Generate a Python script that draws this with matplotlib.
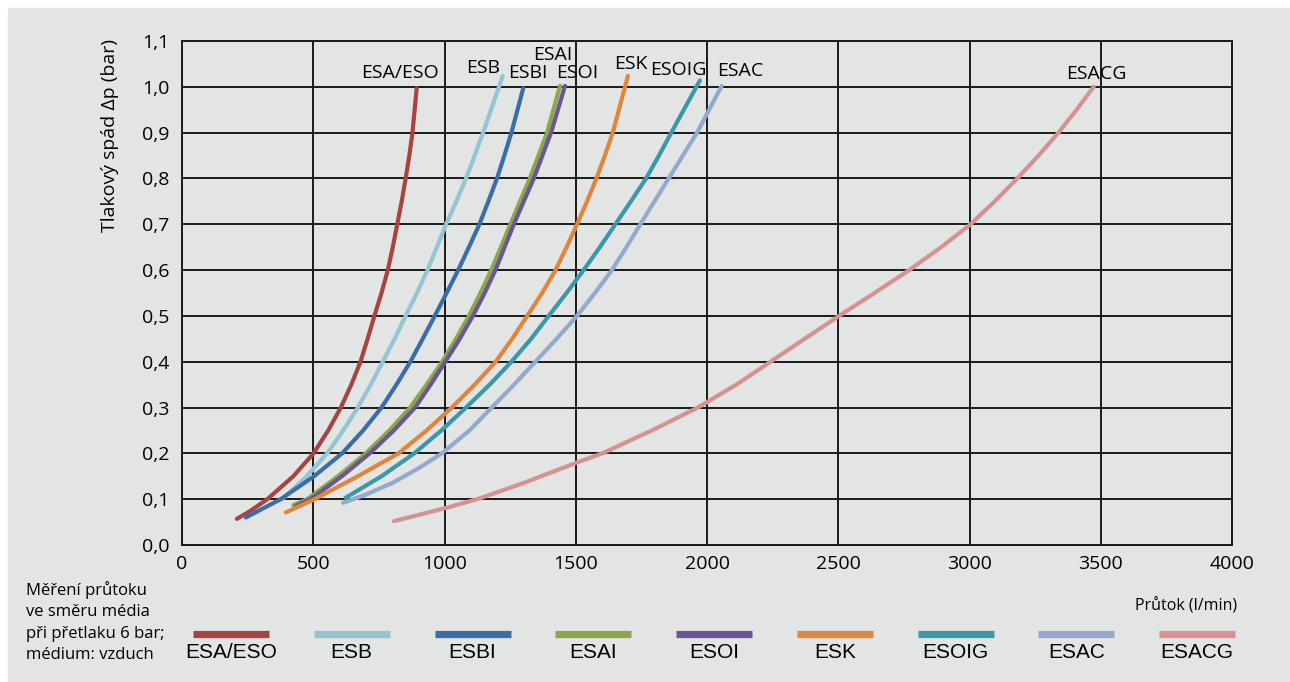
import matplotlib
matplotlib.use("Agg")
import matplotlib.pyplot as plt
from matplotlib.patches import Rectangle
from matplotlib.lines import Line2D

# flow rate (l/min) vs pressure drop (bar)
series_names = ["ESA/ESO", "ESB", "ESBI", "ESAI", "ESOI", "ESK", "ESOIG", "ESAC", "ESACG"]
series_colors = ["#a94341", "#93c5d3", "#3a6ea8", "#8aa84a", "#6b5592",
                 "#e0853a", "#3b98a9", "#93aacc", "#d59290"]

esa_eso_x = [209, 262, 325, 424, 501, 557, 605, 645, 680, 707, 733, 760, 784, 803, 820,
             837, 852, 866, 878, 894]
esa_eso_y = [0.057, 0.075, 0.1, 0.15, 0.2, 0.25, 0.3, 0.35, 0.4, 0.45, 0.5, 0.55, 0.6,
             0.65, 0.7, 0.75, 0.8, 0.85, 0.9, 0.997]

esb_x = [382, 475, 553, 614, 670, 719, 765, 810, 852, 895, 935, 971, 1006, 1045, 1082,
         1115, 1147, 1222]
esb_y = [0.1, 0.15, 0.2, 0.25, 0.3, 0.35, 0.4, 0.45, 0.5, 0.55, 0.6, 0.65, 0.7, 0.75,
         0.8, 0.85, 0.9, 1.024]

esbi_x = [243, 376, 503, 610, 690, 760, 817, 870, 917, 963, 1008, 1052, 1093, 1133, 1167,
          1200, 1228, 1255, 1300]
esbi_y = [0.06, 0.1, 0.15, 0.2, 0.25, 0.3, 0.35, 0.4, 0.45, 0.5, 0.55, 0.6, 0.65, 0.7,
          0.75, 0.8, 0.85, 0.9, 0.997]

esai_x = [424, 477, 594, 700, 790, 869, 932, 991, 1044, 1093, 1137, 1178, 1215, 1251, 1288,
          1325, 1358, 1391, 1440]
esai_y = [0.087, 0.1, 0.15, 0.2, 0.25, 0.3, 0.35, 0.4, 0.45, 0.5, 0.55, 0.6, 0.65, 0.7,
          0.75, 0.8, 0.85, 0.9, 1.002]

esoi_x = [433, 490, 609, 715, 807, 888, 947, 1003, 1058, 1108, 1153, 1194, 1229, 1264, 1302,
          1340, 1373, 1406, 1459]
esoi_y = [0.085, 0.1, 0.15, 0.2, 0.25, 0.3, 0.35, 0.4, 0.45, 0.5, 0.55, 0.6, 0.65, 0.7,
          0.75, 0.8, 0.85, 0.9, 1.002]

esk_x = [395, 505, 670, 825, 932, 1028, 1115, 1195, 1258, 1315, 1372, 1423, 1465, 1505,
         1543, 1579, 1611, 1641, 1699]
esk_y = [0.071, 0.1, 0.15, 0.2, 0.25, 0.3, 0.35, 0.4, 0.45, 0.5, 0.55, 0.6, 0.65, 0.7,
         0.75, 0.8, 0.85, 0.9, 1.024]

esoig_x = [623, 760, 885, 988, 1082, 1172, 1255, 1330, 1397, 1465, 1530, 1592, 1651, 1710,
           1768, 1817, 1864, 1973]
esoig_y = [0.103, 0.15, 0.2, 0.25, 0.3, 0.35, 0.4, 0.45, 0.5, 0.55, 0.6, 0.65, 0.7, 0.75,
           0.8, 0.85, 0.9, 1.014]

esac_x = [614, 700, 800, 900, 990, 1095, 1180, 1265, 1346, 1427, 1505, 1573, 1638, 1693,
          1746, 1800, 1854, 1908, 1962, 2056]
esac_y = [0.092, 0.11, 0.135, 0.167, 0.2, 0.25, 0.3, 0.35, 0.4, 0.45, 0.5, 0.55, 0.6, 0.65,
          0.7, 0.75, 0.8, 0.85, 0.9, 1.002]

esacg_x = [807, 1000, 1125, 1300, 1500, 1601, 1790, 1965, 2112, 2242, 2372, 2503, 2638,
           2770, 2892, 3004, 3096, 3182, 3263, 3339, 3408, 3473]
esacg_y = [0.052, 0.08, 0.1, 0.135, 0.179, 0.2, 0.25, 0.3, 0.35, 0.4, 0.45, 0.5, 0.55,
           0.6, 0.65, 0.7, 0.75, 0.8, 0.85, 0.9, 0.95, 1.0]

series_x = [esa_eso_x, esb_x, esbi_x, esai_x, esoi_x, esk_x, esoig_x, esac_x, esacg_x]
series_y = [esa_eso_y, esb_y, esbi_y, esai_y, esoi_y, esk_y, esoig_y, esac_y, esacg_y]

# curve labels above the top ends (data coords)
label_x = [830, 1147, 1318, 1413, 1505, 1710, 1890, 2128, 3482]
label_y = [1.030, 1.041, 1.030, 1.070, 1.030, 1.049, 1.037, 1.034, 1.027]

x_ticks = list(range(0, 4001, 500))
y_ticks = [i / 10 for i in range(12)]
y_ticklabels = [("%.1f" % v).replace(".", ",") for v in y_ticks]

bg = "#e3e4e4"
ink = "#1a1a1a"
W, H = 1290, 682

fig = plt.figure(figsize=(W / 100, H / 100), dpi=100, facecolor="white")
fig.patches.append(Rectangle((8 / W, 0), 1 - 8 / W, 1 - 8 / H,
                             transform=fig.transFigure, color=bg, zorder=-10))

ax = fig.add_axes([182 / W, 1 - 545 / H, 1050 / W, 504 / H])
ax.set_facecolor(bg)
ax.set_xlim(0, 4000)
ax.set_ylim(0, 1.1)
ax.set_xticks(x_ticks)
ax.set_yticks(y_ticks)
ax.set_yticklabels(y_ticklabels)
ax.tick_params(length=0, labelsize=14, colors="black")
ax.tick_params(axis="x", pad=7)
ax.tick_params(axis="y", pad=9)
for lab in ax.get_xticklabels() + ax.get_yticklabels():
    lab.set_family("Open Sans")
ax.grid(True, color=ink, lw=1.4)
ax.set_axisbelow(True)
for sp in ax.spines.values():
    sp.set_color(ink)
    sp.set_linewidth(1.4)

for xs, ys, col in zip(series_x, series_y, series_colors):
    ax.plot(xs, ys, color=col, lw=3, solid_capstyle="round", solid_joinstyle="round",
            zorder=3, clip_on=False)

for name, lx, ly in zip(series_names, label_x, label_y):
    ax.text(lx, ly, name, ha="center", va="center", fontsize=14,
            family="Open Sans", zorder=4)

fig.text(110 / W, 1 - 136 / H, "Tlakový spád Δp (bar)", rotation=90,
         ha="center", va="center", fontsize=14, family="Open Sans")

fig.text(1237 / W, 1 - 606 / H, "Průtok (l/min)", ha="right", va="center",
         fontsize=11.5, family="Open Sans")

note = ["Měření průtoku", "ve směru média", "při přetlaku 6 bar;", "médium: vzduch"]
for i, line in enumerate(note):
    fig.text(26 / W, 1 - (590 + i * 21.8) / H, line, ha="left", va="center",
             fontsize=12, family="Open Sans")

# legend: bar above each label
for i, (name, col) in enumerate(zip(series_names, series_colors)):
    cx = 231 + i * 120.75
    fig.add_artist(Line2D([(cx - 38) / W, (cx + 38) / W], [1 - 633.5 / H] * 2,
                          transform=fig.transFigure, color=col, lw=5.2,
                          solid_capstyle="butt"))
    fig.text(cx / W, 1 - 653 / H, name, ha="center", va="center",
             fontsize=15, family="Liberation Sans")

fig.savefig("out.png", dpi=100, facecolor=fig.get_facecolor())
